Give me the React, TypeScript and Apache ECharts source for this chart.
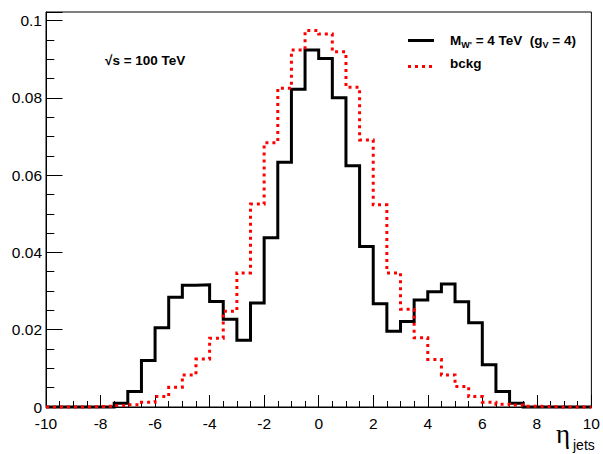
import React, { useEffect, useRef } from "react";
import * as echarts from "echarts";

// Histogram binning: 40 bins of width 0.5 from -10 to 10
const X_MIN = -10;
const X_MAX = 10;
const BIN_WIDTH = 0.5;

// Signal: M_W' = 4 TeV (g_V = 4)
const signalValues = [
  0, 0, 0, 0, 0,
  0.001, 0.004, 0.012, 0.0205, 0.0284,
  0.0315, 0.0316, 0.0273, 0.0227, 0.0173,
  0.0269, 0.0438, 0.0633, 0.0822, 0.0924,
  0.0902, 0.080, 0.0624, 0.0415, 0.0267,
  0.0196, 0.0221, 0.0277, 0.0298, 0.0318,
  0.0272, 0.0218, 0.0109, 0.004, 0.001,
  0, 0, 0, 0, 0,
];

// Background
const bckgValues = [
  0, 0, 0, 0.0001, 0.0002,
  0.0004, 0.0006, 0.0012, 0.0027, 0.0051,
  0.0083, 0.0124, 0.0178, 0.0248, 0.0347,
  0.0525, 0.0684, 0.0825, 0.0924, 0.0974,
  0.0965, 0.0919, 0.0827, 0.0691, 0.0523,
  0.0347, 0.0253, 0.0179, 0.0123, 0.0083,
  0.0053, 0.0027, 0.0012, 0.0007, 0.0005,
  0.0002, 0.0001, 0, 0, 0,
];

const xTickStep = 2;
const yTickStep = 0.02;
const yMinorStep = 0.005;
const Y_MAX = 0.1022;

function toSteps(values: number[]): number[][] {
  const pts = values.map((v, i) => [X_MIN + i * BIN_WIDTH, v]);
  pts.push([X_MAX, values[values.length - 1]]);
  return pts;
}

const FONT = "'Liberation Sans', Arial, Helvetica, sans-serif";

export default function App() {
  const ref = useRef<HTMLDivElement>(null);
  useEffect(() => {
    if (!ref.current) return;
    const chart = echarts.init(ref.current, undefined, { renderer: "svg" });
    const option: any = {
      animation: false,
      backgroundColor: "#ffffff",
      grid: {
        left: 46,
        right: 9,
        top: 12,
        bottom: 47,
        show: true,
        borderColor: "#000",
        borderWidth: 1,
        backgroundColor: "transparent",
      },
      xAxis: {
        type: "value",
        min: X_MIN,
        max: X_MAX,
        interval: xTickStep,
        axisLine: { show: true, onZero: false, lineStyle: { color: "#000", width: 1 } },
        axisTick: { show: true, inside: true, length: 12, lineStyle: { color: "#000", width: 1 } },
        minorTick: { show: true, splitNumber: 4, length: 6, lineStyle: { color: "#000", width: 1 } },
        splitLine: { show: false },
        minorSplitLine: { show: false },
        axisLabel: { color: "#000", fontSize: 15.5, lineHeight: 14, fontFamily: FONT, margin: 9 },
      },
      yAxis: [
        {
          type: "value",
          position: "left",
          min: 0,
          max: Y_MAX,
          interval: yTickStep,
          axisLine: { show: true, onZero: false, lineStyle: { color: "#000", width: 1 } },
          axisTick: { show: true, inside: true, length: 16.5, lineStyle: { color: "#000", width: 1 } },
          splitLine: { show: false },
          axisLabel: {
            color: "#000",
            fontSize: 15.5,
            lineHeight: 11,
            fontFamily: FONT,
            margin: 4,
            formatter: (v: number) => {
              const r = Math.round(v / yTickStep);
              if (Math.abs(v - r * yTickStep) > 1e-9) return "";
              return String(+v.toFixed(2));
            },
          },
        },
        {
          type: "value",
          position: "left",
          min: 0,
          max: Y_MAX,
          interval: yMinorStep,
          axisLine: { show: false, onZero: false },
          axisTick: { show: true, inside: true, length: 8.3, lineStyle: { color: "#000", width: 1 } },
          splitLine: { show: false },
          axisLabel: { show: false },
        },
      ],
      series: [
        {
          name: "M_W' = 4 TeV (g_V = 4)",
          type: "line",
          step: "end",
          yAxisIndex: 0,
          data: toSteps(signalValues),
          showSymbol: false,
          symbol: "none",
          clip: false,
          lineStyle: { color: "#000", width: 3, cap: "butt", join: "miter" },
          z: 3,
        },
        {
          name: "bckg",
          type: "line",
          step: "end",
          yAxisIndex: 0,
          data: toSteps(bckgValues),
          showSymbol: false,
          symbol: "none",
          clip: false,
          lineStyle: { color: "#ff0000", width: 3, type: [3, 4], cap: "butt", join: "miter" },
          z: 4,
        },
      ],
      graphic: [
        {
          type: "text",
          left: 105,
          top: 53,
          style: {
            text: "√s = 100 TeV",
            font: `bold 13.5px ${FONT}`,
            fill: "#000",
          },
        },
        {
          type: "line",
          shape: { x1: 408, y1: 40.5, x2: 434, y2: 40.5 },
          style: { stroke: "#000", lineWidth: 3 },
        },
        {
          type: "text",
          x: 450,
          y: 40,
          style: {
            text: "{b|M}{s|W'}{b| = 4 TeV  (g}{s|V}{b| = 4)}",
            textVerticalAlign: "middle",
            rich: {
              b: { fontFamily: FONT, fontWeight: "bold", fontSize: 13.5, lineHeight: 18, fill: "#000", verticalAlign: "middle" },
              s: { fontFamily: FONT, fontWeight: "bold", fontSize: 9, lineHeight: 10, fill: "#000", verticalAlign: "bottom" },
            },
          },
        },
        {
          type: "line",
          shape: { x1: 408, y1: 66.5, x2: 434, y2: 66.5 },
          style: { stroke: "#ff0000", lineWidth: 3, lineDash: [3, 4] },
        },
        {
          type: "text",
          x: 450,
          y: 63,
          style: {
            text: "bckg",
            font: `bold 13.5px ${FONT}`,
            fill: "#000",
            textVerticalAlign: "middle",
          },
        },
        {
          type: "text",
          x: 556,
          y: 434,
          style: {
            text: "η",
            font: `27px 'Liberation Serif', 'DejaVu Serif', serif`,
            fill: "#000",
            textVerticalAlign: "middle",
          },
        },
        {
          type: "text",
          x: 573,
          y: 445,
          style: {
            text: "jets",
            font: `14px ${FONT}`,
            fill: "#000",
            textVerticalAlign: "middle",
          },
        },
      ],
    };
    chart.setOption(option);
    return () => chart.dispose();
  }, []);
  return (
    <div
      ref={ref}
      style={{ position: "absolute", left: 0, top: 0, width: 603, height: 454 }}
    />
  );
}
